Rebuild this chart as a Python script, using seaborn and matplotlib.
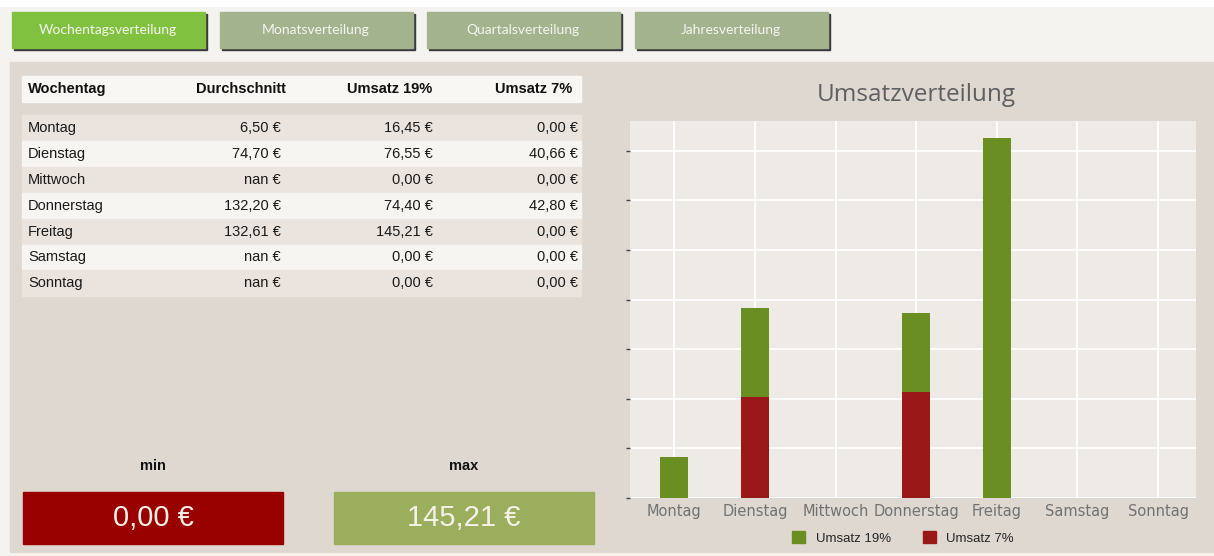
import numpy as np
import pandas as pd
import matplotlib
matplotlib.use("Agg")
import matplotlib.pyplot as plt
import matplotlib.patches as mpatches
import seaborn as sns

# data
tage = ['Montag', 'Dienstag', 'Mittwoch', 'Donnerstag', 'Freitag', 'Samstag', 'Sonntag']
durchschnitt = [6.50, 74.70, np.nan, 132.20, 132.61, np.nan, np.nan]
umsatz_19 = [16.45, 76.55, 0.00, 74.40, 145.21, 0.00, 0.00]
umsatz_7 = [0.00, 40.66, 0.00, 42.80, 0.00, 0.00, 0.00]
buttons = ['Wochentagsverteilung', 'Monatsverteilung', 'Quartalsverteilung', 'Jahresverteilung']
spalten = ['Wochentag', 'Durchschnitt', 'Umsatz 19%', 'Umsatz 7%']

GREEN = '#6b8e23'
RED = '#9b1818'
PANEL = '#ded8d1'


def euro(v):
    if np.isnan(v):
        return 'nan €'
    return f'{v:.2f}'.replace('.', ',') + ' €'


def draw_buttons(ax):
    x0 = 12
    for i, name in enumerate(buttons):
        x = x0 + i * 207.5
        col = '#80c240' if i == 0 else '#a3b38e'
        ax.add_patch(mpatches.Rectangle((x + 2, 14), 193, 36, color='#3a3a3a', zorder=1))
        ax.add_patch(mpatches.Rectangle((x, 12), 193, 36, color=col, zorder=2))
        ax.text(x + 96, 30, name, ha='center', va='center', color='#f4f6ee',
                fontsize=10, family='Lato', zorder=3)


def draw_table(ax):
    ax.add_patch(mpatches.Rectangle((22, 76), 559, 26, color='#f8f7f4', zorder=1))
    col_x = [28, 286, 432, 572]
    for j, s in enumerate(spalten):
        ax.text(col_x[j], 89, s, ha='left' if j == 0 else 'right', va='center',
                fontsize=10.5, fontweight='bold', family='Liberation Sans', color='#111111')
    val_x = [28, 281, 433, 578]
    row_h = 25.9
    for i, tag in enumerate(tage):
        y = 115 + i * row_h
        col = '#ebe4de' if i % 2 == 0 else '#f7f5f2'
        ax.add_patch(mpatches.Rectangle((22, y), 559, row_h, color=col, zorder=1))
        yc = y + row_h / 2
        cells = [tag, euro(durchschnitt[i]), euro(umsatz_19[i]), euro(umsatz_7[i])]
        for j, c in enumerate(cells):
            ax.text(val_x[j], yc, c, ha='left' if j == 0 else 'right', va='center',
                    fontsize=10.5, family='Liberation Sans', color='#1a1a1a')


def draw_minmax(ax):
    werte = umsatz_19 + umsatz_7
    lo, hi = min(werte), max(werte)
    for label, val, x, col in [('min', lo, 23, '#990000'), ('max', hi, 334, '#9bae5e')]:
        ax.text(x + 130, 466, label, ha='center', va='center', fontsize=10.5,
                fontweight='bold', family='Liberation Sans', color='#111111')
        ax.add_patch(mpatches.Rectangle((x, 492), 260, 52, color=col, zorder=1))
        ax.text(x + 130, 518, euro(val), ha='center', va='center', fontsize=21,
                family='Liberation Sans', color='#f6f1e6', zorder=2)


def plot_chart(fig):
    W, H = 1214, 556
    ax = fig.add_axes([630 / W, 1 - 498 / H, 566 / W, 377 / H])
    ax.set_facecolor('#eeeae6')
    df = pd.DataFrame({'Tag': tage, 'Umsatz 19%': umsatz_19, 'Umsatz 7%': umsatz_7})
    sns.barplot(data=df, x='Tag', y='Umsatz 19%', color=GREEN, width=0.35,
                saturation=1, linewidth=0, edgecolor='none', ax=ax, zorder=3)
    sns.barplot(data=df, x='Tag', y='Umsatz 7%', color=RED, width=0.35,
                saturation=1, linewidth=0, edgecolor='none', ax=ax, zorder=4)
    ax.set_xlim(-0.55, 6.47)
    ax.set_ylim(0, 152)
    ax.set_yticks(np.arange(0, 141, 20))
    ax.set_yticklabels([])
    ax.grid(True, color='white', lw=1.3, zorder=0)
    ax.set_axisbelow(True)
    for s in ax.spines.values():
        s.set_visible(False)
    ax.tick_params(axis='y', left=True, length=3, width=1, color='#444444', pad=0)
    ax.tick_params(axis='x', length=0, labelsize=10.5, labelcolor='#727272', pad=4)
    ax.set_xlabel('')
    ax.set_ylabel('')
    fig.text(916 / W, 1 - 95 / H, 'Umsatzverteilung', ha='center', va='center',
             fontsize=17.5, family='Open Sans', color='#5f5f5f')
    handles = [mpatches.Patch(color=GREEN, label='Umsatz 19%'),
               mpatches.Patch(color=RED, label='Umsatz 7%')]
    fig.legend(handles=handles, loc='center', bbox_to_anchor=(903 / W, 1 - 538 / H),
               ncol=2, frameon=False, prop={'family': 'Liberation Sans', 'size': 9.5},
               handlelength=1.0, handleheight=1.0, columnspacing=2.4, handletextpad=0.8)


def main():
    sns.set_style('white')
    fig = plt.figure(figsize=(12.14, 5.56), dpi=100)
    fig.patch.set_facecolor('#f5f3ef')
    bg = fig.add_axes([0, 0, 1, 1])
    bg.set_xlim(0, 1214)
    bg.set_ylim(556, 0)
    bg.axis('off')
    bg.add_patch(mpatches.Rectangle((0, 0), 1214, 6, color='white', zorder=0))
    bg.add_patch(mpatches.Rectangle((10, 62), 1204, 490, color=PANEL, zorder=0))
    draw_buttons(bg)
    draw_table(bg)
    draw_minmax(bg)
    plot_chart(fig)
    fig.savefig('out.png', dpi=100, facecolor=fig.get_facecolor())


if __name__ == '__main__':
    main()
